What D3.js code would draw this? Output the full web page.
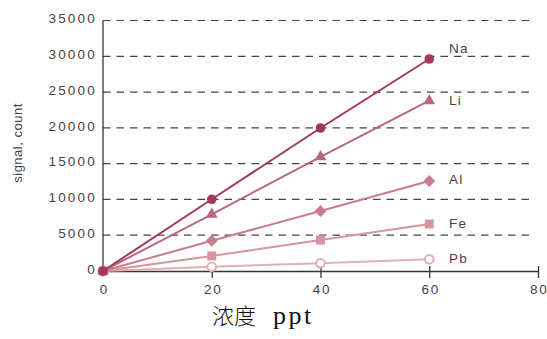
<!DOCTYPE html>
<html><head><meta charset="utf-8">
<script src="https://cdn.jsdelivr.net/npm/d3@7/dist/d3.min.js"></script>
<style>body{margin:0;background:#fff}svg{display:block}</style>
</head><body>
<script>
const concentrations = [0, 20, 40, 60];
const naValues = [0, 10020, 19980, 29620];
const liValues = [0, 7920, 15950, 23790];
const alValues = [0, 4230, 8380, 12570];
const feValues = [0, 2100, 4330, 6570];
const pbValues = [0, 600, 1080, 1630];
const seriesNames = ["Na", "Li", "Al", "Fe", "Pb"];
const yTicks = [0, 5000, 10000, 15000, 20000, 25000, 30000, 35000];
const xTicks = [0, 20, 40, 60, 80];
const xTitleCjk = "浓度";
const xTitleUnit = "ppt";

const series = [
  {name: seriesNames[0], values: naValues, color: "#a2395c", shape: "circle", labelDy: -11},
  {name: seriesNames[1], values: liValues, color: "#b9677f", shape: "triangle", labelDy: 0},
  {name: seriesNames[2], values: alValues, color: "#c77c8f", shape: "diamond", labelDy: -2},
  {name: seriesNames[3], values: feValues, color: "#d5969f", shape: "square", labelDy: -1},
  {name: seriesNames[4], values: pbValues, color: "#dfb1b7", shape: "open", labelDy: -1}
];

const W = 547, H = 339;
const svg = d3.select("body").append("svg").attr("width", W).attr("height", H);
const x = d3.scaleLinear().domain([0, 80]).range([103, 538]);
const y = d3.scaleLinear().domain([0, 35000]).range([271, 20.5]);

// gridlines
svg.append("g").selectAll("line").data(yTicks.filter(d => d > 0)).join("line")
  .attr("x1", x(0)).attr("x2", 533).attr("y1", d => y(d)).attr("y2", d => y(d))
  .attr("stroke", "#444").attr("stroke-width", 1.2).attr("stroke-dasharray", "7.5,6");

// y axis line
svg.append("line").attr("x1", x(0)).attr("x2", x(0)).attr("y1", y(35000)).attr("y2", y(0))
  .attr("stroke", "#333").attr("stroke-width", 1.3);
// x axis
const xAxis = d3.axisBottom(x).tickValues(xTicks).tickSize(0).tickPadding(0).tickFormat(d3.format("d"));
const gx = svg.append("g").attr("transform", `translate(0,${y(0)})`).call(xAxis);
gx.select(".domain").attr("stroke", "#333").attr("stroke-width", 1.3);
gx.selectAll(".tick line").remove();
gx.selectAll(".tick").filter(d => d > 0).append("line")
  .attr("y1", -5).attr("y2", 7).attr("stroke", "#333").attr("stroke-width", 1.3);
gx.selectAll(".tick text").attr("y", 19).attr("dy", "0.32em")
  .attr("font-family", "Liberation Sans, Arial, sans-serif").attr("font-size", 13.5)
  .attr("letter-spacing", "1.8px").attr("dx", "1px").attr("fill", "#444");
gx.selectAll(".tick text").filter(d => d === 80)
  .attr("text-anchor", "end").attr("dx", "0px").attr("x", 547 - 538 + 1);

// y tick labels
const yAxis = d3.axisLeft(y).tickValues(yTicks).tickSize(0).tickPadding(0).tickFormat(d3.format("d"));
const gy = svg.append("g").attr("transform", `translate(97,0)`).call(yAxis);
gy.select(".domain").remove();
gy.selectAll(".tick text").attr("font-family", "Liberation Sans, Arial, sans-serif")
  .attr("font-size", 13.5).attr("letter-spacing", "2.2px").attr("fill", "#444")
  .attr("dy", "0.32em").attr("transform", "translate(0,-2)");

// y label
svg.append("text").attr("transform", "translate(22,143) rotate(-90)")
  .attr("text-anchor", "middle").attr("font-family", "Liberation Sans, Arial, sans-serif")
  .attr("font-size", 13).attr("fill", "#444").attr("letter-spacing", "0.5px").text("signal, count");

// x label
const xt = svg.append("text").attr("y", 324).attr("fill", "#111");
xt.append("tspan").attr("x", 212).attr("font-family", "Noto Sans CJK SC, sans-serif")
  .attr("font-weight", 300).attr("font-size", 22).attr("letter-spacing", "0px").text(xTitleCjk);
xt.append("tspan").attr("x", 273).attr("font-family", "Liberation Serif, serif")
  .attr("font-size", 26).attr("letter-spacing", "2.5px").text(xTitleUnit);

const line = d3.line().x((d, i) => x(concentrations[i])).y(d => y(d));

// draw from lightest to darkest so darker lies on top
series.slice().reverse().forEach(s => {
  const g = svg.append("g");
  g.append("path").attr("d", line(s.values)).attr("fill", "none")
    .attr("stroke", s.color).attr("stroke-width", 2);
  const pts = g.selectAll(".pt").data(s.values).join("g")
    .attr("transform", (d, i) => `translate(${x(concentrations[i])},${y(d)})`);
  if (s.shape === "circle") {
    pts.append("circle").attr("r", 4.8).attr("fill", s.color);
  } else if (s.shape === "open") {
    pts.append("circle").attr("r", 4.3).attr("fill", "#fff").attr("stroke", s.color).attr("stroke-width", 2);
  } else if (s.shape === "triangle") {
    pts.append("path").attr("d", d3.symbol().type(d3.symbolTriangle).size(60)()).attr("fill", s.color);
  } else if (s.shape === "diamond") {
    pts.append("path").attr("d", "M0,-6L6,0L0,6L-6,0Z").attr("fill", s.color);
  } else if (s.shape === "square") {
    pts.append("rect").attr("x", -4.5).attr("y", -4.5).attr("width", 9).attr("height", 9).attr("fill", s.color);
  }
  svg.append("text").attr("x", 449)
    .attr("y", y(s.values[3]) + s.labelDy)
    .attr("dy", "0.35em").attr("font-family", "Liberation Sans, Arial, sans-serif")
    .attr("font-size", 13.5).attr("letter-spacing", "1.2px").attr("fill", "#444").text(s.name);
});
</script>
</body></html>
